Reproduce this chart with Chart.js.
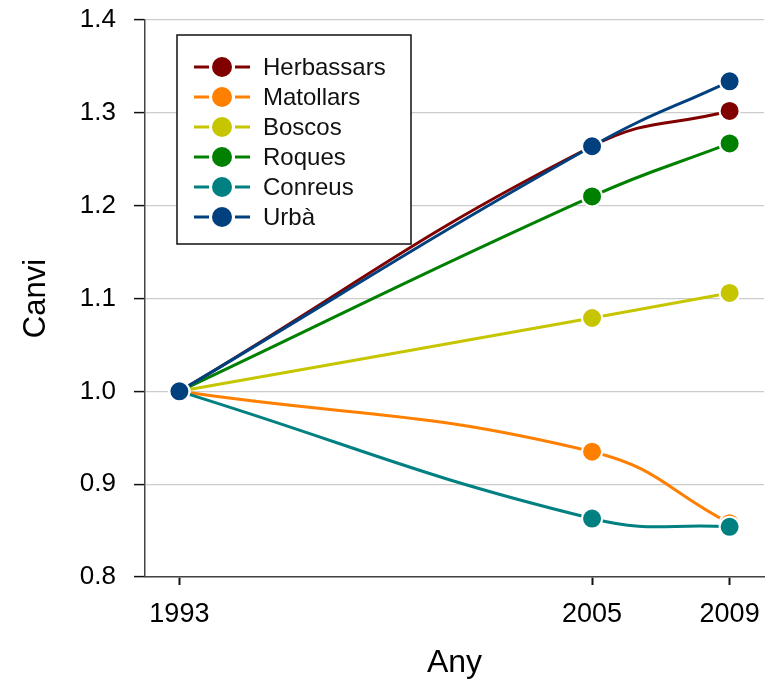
<!DOCTYPE html>
<html>
<head>
<meta charset="utf-8">
<script src="https://cdn.jsdelivr.net/npm/chart.js@4.4.0/dist/chart.umd.min.js"></script>
<style>
  html, body { margin: 0; padding: 0; background: #fff; }
  #wrap { width: 776px; height: 682px; }
</style>
</head>
<body>
<div id="wrap"><canvas id="changeChart" width="776" height="682"></canvas></div>
<script>
const years = [1993, 2005, 2009];
const yTicks = [0.8, 0.9, 1.0, 1.1, 1.2, 1.3, 1.4];

const seriesNames = ['Herbassars', 'Matollars', 'Boscos', 'Roques', 'Conreus', 'Urbà'];
const seriesColors = ['#800000', '#ff8000', '#c6c600', '#008000', '#008080', '#00407f'];

const herbassars = [1.0, 1.264, 1.302];
const matollars = [1.0, 0.935, 0.858];
const boscos = [1.0, 1.079, 1.106];
const roques = [1.0, 1.210, 1.267];
const conreus = [1.0, 0.863, 0.854];
const urba = [1.0, 1.264, 1.334];

const seriesValues = [herbassars, matollars, boscos, roques, conreus, urba];

const FONT = 'Liberation Sans, Arial, sans-serif';

// legend drawn inside the plot, in a framed box
const boxLegend = {
    id: 'boxLegend',
    afterDraw(chart) {
        const ctx = chart.ctx;
        const x0 = 177, y0 = 35, w = 234, h = 209;
        ctx.save();
        ctx.fillStyle = '#fff';
        ctx.fillRect(x0, y0, w, h);
        ctx.strokeStyle = '#111';
        ctx.lineWidth = 1.5;
        ctx.strokeRect(x0, y0, w, h);
        chart.data.datasets.forEach((ds, i) => {
            const cy = y0 + 32 + i * 30;
            ctx.strokeStyle = ds.borderColor;
            ctx.lineWidth = 3;
            ctx.beginPath();
            ctx.moveTo(194, cy); ctx.lineTo(209, cy);
            ctx.moveTo(235, cy); ctx.lineTo(250, cy);
            ctx.stroke();
            ctx.fillStyle = ds.borderColor;
            ctx.beginPath();
            ctx.arc(222, cy, 10, 0, Math.PI * 2);
            ctx.fill();
            ctx.fillStyle = '#111';
            ctx.font = '24px ' + FONT;
            ctx.textBaseline = 'middle';
            ctx.textAlign = 'left';
            ctx.fillText(ds.label, 263, cy + 1);
        });
        ctx.restore();
    }
};

function createChangeChart() {
    const ctx = document.getElementById('changeChart').getContext('2d');
    new Chart(ctx, {
        type: 'line',
        data: {
            datasets: seriesNames.map((name, i) => ({
                label: name,
                data: years.map((y, j) => ({ x: y, y: seriesValues[i][j] })),
                borderColor: seriesColors[i],
                backgroundColor: seriesColors[i],
                pointBackgroundColor: seriesColors[i],
                pointBorderColor: '#fff',
                pointBorderWidth: 2,
                pointRadius: 10,
                borderWidth: 3,
                tension: 0.45,
                order: seriesNames.length - i // later series on top
            }))
        },
        options: {
            responsive: false,
            animation: false,
            layout: { padding: { top: 0, right: 11, bottom: 0, left: 0 } },
            plugins: {
                legend: { display: false },
                tooltip: { enabled: false }
            },
            scales: {
                x: {
                    type: 'linear',
                    min: 1992,
                    max: 2010,
                    afterBuildTicks: (axis) => { axis.ticks = years.map(v => ({ value: v })); },
                    afterFit: (axis) => { axis.height = 105; },
                    grid: { drawOnChartArea: false, drawTicks: true, tickLength: 8, tickColor: '#111', tickWidth: 2 },
                    border: { color: '#444', width: 1.5 },
                    ticks: {
                        color: '#000',
                        font: { family: FONT, size: 27 },
                        padding: 13,
                        maxRotation: 0,
                        callback: (v) => String(v)
                    },
                    title: {
                        display: true,
                        text: 'Any',
                        color: '#000',
                        font: { family: FONT, size: 32 },
                        padding: { top: 0, bottom: 0 }
                    }
                },
                y: {
                    min: 0.8,
                    max: 1.4,
                    afterBuildTicks: (axis) => { axis.ticks = yTicks.map(v => ({ value: v })); },
                    afterFit: (axis) => {
                        axis.width = 145;
                        axis.paddingTop = 20;   // keep the plot top at 1.4 = y 20
                        axis.paddingBottom = 0;
                    },
                    grid: { color: '#cccccc', lineWidth: 1.2, drawTicks: true, tickLength: 11, tickColor: '#111', tickWidth: 1.5 },
                    border: { color: '#444', width: 1.5 },
                    ticks: {
                        color: '#000',
                        font: { family: FONT, size: 26 },
                        padding: 18,
                        callback: (v) => v.toFixed(1)
                    },
                    title: {
                        display: true,
                        text: 'Canvi',
                        color: '#000',
                        font: { family: FONT, size: 31 },
                        padding: { top: 18, bottom: 0 }
                    }
                }
            }
        },
        plugins: [boxLegend]
    });
}

document.addEventListener('DOMContentLoaded', createChangeChart);
</script>
</body>
</html>
